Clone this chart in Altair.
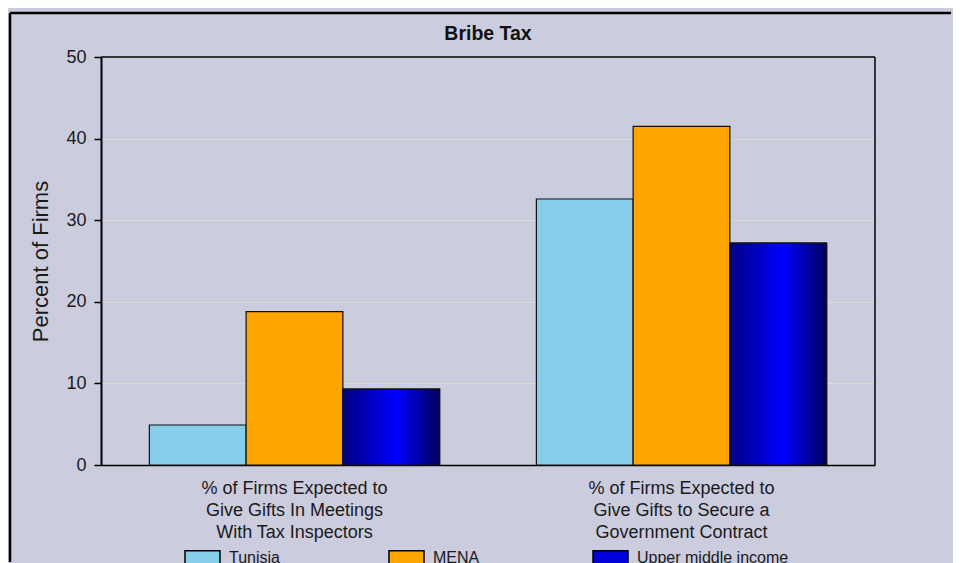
import altair as alt
import pandas as pd

categories = [
    "% of Firms Expected to|Give Gifts In Meetings|With Tax Inspectors",
    "% of Firms Expected to|Give Gifts to Secure a|Government Contract",
]
series = ["Tunisia", "MENA", "Upper middle income"]
colors = ["#87CEEB", "#FFA500", "#0000D8"]
values = {
    "Tunisia": [4.9, 32.6],
    "MENA": [18.8, 41.5],
    "Upper middle income": [9.3, 27.2],
}
y_ticks = [0, 10, 20, 30, 40, 50]
title_text = "Bribe Tax"

rows = []
for s in series:
    for c, v in zip(categories, values[s]):
        rows.append({"category": c, "series": s, "value": v})
df = pd.DataFrame(rows)

BG = "#CBCCDE"
FONT = "Liberation Sans"
W, H = 774, 408

x_enc = alt.X(
    "category:N",
    sort=categories,
    scale=alt.Scale(paddingInner=0, paddingOuter=0),
    axis=alt.Axis(
        title=None,
        labelAngle=0,
        labelExpr="split(datum.label, '|')",
        labelFontSize=18,
        labelLineHeight=22,
        labelPadding=14,
        labelLimit=400,
        labelColor="#1a1a1a",
        ticks=False,
        domainColor="black",
        domainWidth=1.5,
        labelFont=FONT,
    ),
)
xoff_enc = alt.XOffset(
    "series:N",
    sort=series,
    scale=alt.Scale(domain=series, paddingOuter=0.5, paddingInner=0),
)
y_enc = alt.Y(
    "value:Q",
    scale=alt.Scale(domain=[0, 50], nice=False),
    axis=alt.Axis(
        values=y_ticks,
        title="Percent of Firms",
        titleFontSize=22,
        titleFontWeight="normal",
        titleColor="#1a1a1a",
        titlePadding=13,
        titleFont=FONT,
        labelFontSize=18,
        labelColor="#1a1a1a",
        labelFont=FONT,
        labelPadding=8,
        tickSize=7,
        tickColor="black",
        tickWidth=1.5,
        domainColor="black",
        domainWidth=2,
        grid=True,
        gridColor="#DCDCCF",
        gridWidth=1,
    ),
)

bars = alt.Chart(df).mark_bar(stroke="#111111", strokeWidth=1.2).encode(
    x=x_enc,
    xOffset=xoff_enc,
    y=y_enc,
    color=alt.Color(
        "series:N",
        sort=series,
        scale=alt.Scale(domain=series, range=colors),
        legend=alt.Legend(
            title=None,
            orient="none",
            legendX=83,
            legendY=482,
            direction="horizontal",
            columns=3,
            gridAlign="all",
            columnPadding=5,
            symbolType="M-1,-0.4H1V0.4H-1Z",
            symbolSize=1225,
            symbolStrokeColor="black",
            symbolStrokeWidth=1.5,
            symbolOpacity=1,
            labelFontSize=16,
            labelFont=FONT,
            labelColor="#1a1a1a",
            labelOffset=8,
            labelLimit=200,
        ),
    ),
)

grad_bars = (
    alt.Chart(df)
    .transform_filter(alt.datum.series == "Upper middle income")
    .mark_bar(
        stroke="#111111",
        strokeWidth=1.2,
        fill=alt.Gradient(
            gradient="linear",
            x1=0, x2=1, y1=0, y2=0,
            stops=[
                alt.GradientStop(offset=0, color="#000080"),
                alt.GradientStop(offset=0.55, color="#0000FF"),
                alt.GradientStop(offset=1, color="#000060"),
            ],
        ),
    )
    .encode(x=x_enc, xOffset=xoff_enc, y=y_enc)
)

single = alt.Data(values=[{"t": title_text}])
top_border = alt.Chart(single).mark_rule(color="black", strokeWidth=2.5).encode(
    x=alt.value(-91), x2=alt.value(850), y=alt.value(-44)
)
left_border = alt.Chart(single).mark_rule(color="black", strokeWidth=2.5).encode(
    x=alt.value(-91), y=alt.value(-44), y2=alt.value(505)
)
frame_top = alt.Chart(single).mark_rule(color="black", strokeWidth=1.5).encode(
    x=alt.value(0), x2=alt.value(W), y=alt.value(0)
)
frame_right = alt.Chart(single).mark_rule(color="black", strokeWidth=1.5).encode(
    x=alt.value(W), y=alt.value(0), y2=alt.value(H)
)
title = alt.Chart(single).mark_text(
    font=FONT, fontSize=19.5, fontWeight="bold", color="#111111",
    align="center", baseline="alphabetic",
).encode(x=alt.value(W / 2), y=alt.value(-17), text="t:N")

chart = (
    alt.layer(top_border, left_border, title, bars, grad_bars, frame_top, frame_right)
    .properties(
        width=W,
        height=H,
        background=BG,
        padding={"left": 0, "top": 3, "right": 0, "bottom": 0},
    )
    .configure_view(stroke="black", strokeWidth=1.5)
    .configure(font=FONT)
)

chart.save("out.html", embed_options={"renderer": "svg", "actions": False})
